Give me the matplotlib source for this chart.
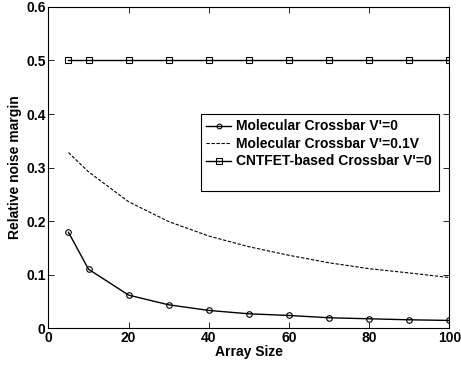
import numpy as np
import matplotlib
matplotlib.use('Agg')
import matplotlib.pyplot as plt
from matplotlib.patches import Rectangle

plt.rcParams['font.family'] = ['Liberation Sans', 'DejaVu Sans']
plt.rcParams['font.weight'] = 'bold'

array_size = [5, 10, 20, 30, 40, 50, 60, 70, 80, 90, 100]
mol_v0 = [0.179, 0.110, 0.0616, 0.0435, 0.033, 0.0267, 0.0236, 0.0193, 0.0174, 0.0155, 0.0143]
mol_v01 = [0.328, 0.292, 0.236, 0.199, 0.172, 0.152, 0.136, 0.122, 0.111, 0.103, 0.0945]
cntfet_v0 = [0.5, 0.5, 0.5, 0.5, 0.5, 0.5, 0.5, 0.5, 0.5, 0.5, 0.5]

labels = ["Molecular Crossbar V'=0", "Molecular Crossbar V'=0.1V", "CNTFET-based Crossbar V'=0"]

fig = plt.figure(figsize=(4.61, 3.67), dpi=100)
ax = fig.add_axes([0.105, 0.106, 0.87, 0.875])

ax.plot(array_size, mol_v0, color='black', lw=1.0, marker='o', markersize=4,
        markerfacecolor='none', markeredgewidth=0.8, label=labels[0])
ax.plot(array_size, mol_v01, color='black', lw=0.8, linestyle=(0, (3, 1.5)), label=labels[1])
ax.plot(array_size, cntfet_v0, color='black', lw=1.0, marker='s', markersize=4.5,
        markerfacecolor='none', markeredgewidth=0.8, label=labels[2])

ax.set_xlim(0, 100)
ax.set_ylim(0, 0.6)
ax.set_xticks([0, 20, 40, 60, 80, 100])
ax.set_yticks([0, 0.1, 0.2, 0.3, 0.4, 0.5, 0.6])
ax.set_yticklabels(['0', '0.1', '0.2', '0.3', '0.4', '0.5', '0.6'])
ax.tick_params(axis='both', direction='in', top=True, right=True, labelsize=10, length=4, width=0.6, pad=2)
for s in ax.spines.values():
    s.set_linewidth(0.8)
ax.set_xlabel('Array Size', fontsize=10, fontweight='bold', labelpad=0)
ax.set_ylabel('Relative noise margin', fontsize=10, fontweight='bold', labelpad=3)

# matlab-style legend box with empty space at the bottom
ax.add_patch(Rectangle((0.38, 0.427), 0.594, 0.24, transform=ax.transAxes,
                       facecolor='white', edgecolor='black', lw=0.8, zorder=4))
leg = ax.legend(loc='upper left', bbox_to_anchor=(0.38, 0.667), fontsize=10, frameon=False,
                handlelength=1.8, handletextpad=0.3, markerscale=0.85,
                borderpad=0.4, labelspacing=0.25, borderaxespad=0)
leg.set_zorder(5)

fig.savefig('out.png', dpi=100)
